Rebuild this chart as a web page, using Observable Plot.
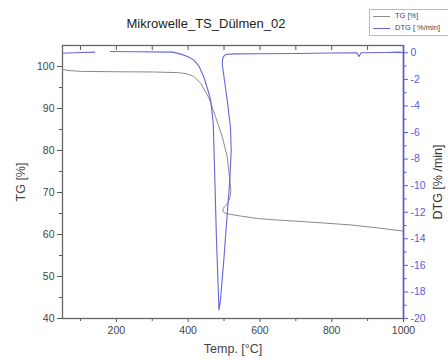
<!DOCTYPE html>
<html><head><meta charset="utf-8">
<script src="https://cdn.jsdelivr.net/npm/d3@7"></script>
<script src="https://cdn.jsdelivr.net/npm/@observablehq/plot@0.6"></script>
<style>
body{margin:0;background:#fff;font-family:"Liberation Sans",Arial,sans-serif;}
#wrap{position:relative;width:448px;height:362px;overflow:hidden;background:#fff;}
#wrap svg{position:absolute;left:0;top:0;}
#title{position:absolute;left:0;width:412px;top:16px;text-align:center;font-size:13px;color:#222;}
#legend{position:absolute;left:369px;top:9px;width:95px;height:25px;border:1px solid #bbb;background:#fff;font-size:7.5px;color:#444;}
#legend .row{position:absolute;left:3px;height:10px;line-height:10px;white-space:nowrap;}
#legend .sw{display:inline-block;width:17px;height:0;vertical-align:middle;margin-right:5px;}
g[aria-label="x-axis label"] text, g[aria-label="y-axis label"] text{font-size:12.5px;}
</style>
</head><body>
<div id="wrap">
  <div id="title">Mikrowelle_TS_Dülmen_02</div>
  <div id="legend">
    <div class="row" style="top:1px"><span class="sw" style="border-top:1px solid #8a8a8a"></span>TG [%]</div>
    <div class="row" style="top:13px"><span class="sw" style="border-top:1px solid #6565dd"></span>DTG [ %/min]</div>
  </div>
</div>
<script>
// TG curve (time-ordered, temperature overshoots during the reaction)
const tgTemp  = [50, 65, 100, 200, 300, 370, 395, 416, 435, 458, 476, 495, 509, 516, 519, 517, 511, 503, 497, 497, 503, 514, 546, 593, 658, 750, 850, 925, 1000];
const tgValue = [99.35, 99.05, 98.85, 98.75, 98.7, 98.55, 98.3, 97.6, 96.0, 92.5, 88.1, 83.3, 78.5, 73.0, 70.5, 69.0, 67.6, 66.7, 66.2, 65.5, 65.1, 64.85, 64.4, 63.8, 63.4, 62.9, 62.3, 61.6, 60.8];
// DTG curve (null = gap in the record)
const dtgTemp  = [50, 100, 140, 160, 184, 250, 357, 380, 400, 416, 430, 444, 455, 463, 470, 474, 479, 486, 490, 500, 509, 516, 520, 518, 509, 500, 495, 497, 504, 527, 600, 700, 800, 870, 876, 882, 950, 990, 1000];
const dtgValue = [-0.03, 0.02, 0.05, null, 0.1, 0.08, 0.05, -0.1, -0.3, -0.55, -1.0, -1.84, -2.8, -3.6, -5.35, -9.1, -14.1, -19.35, -18.65, -15.4, -12.1, -9.6, -7.35, -5.6, -3.6, -1.84, -0.83, -0.33, -0.13, -0.08, -0.07, -0.05, -0.02, 0.0, -0.28, 0.0, 0.02, 0.05, 0.0];

const xMajor = [200, 400, 600, 800, 1000];
const xMinor = [100, 300, 500, 700, 900];
const tgMajor = [40, 50, 60, 70, 80, 90, 100];
const tgMinor = [45, 55, 65, 75, 85, 95];
const dtgMajor = [0, -2, -4, -6, -8, -10, -12, -14, -16, -18, -20];
const dtgMinor = [-1, -3, -5, -7, -9, -11, -13, -15, -17, -19];

const W = 448, H = 362;
const M = {marginLeft: 62, marginRight: 45, marginTop: 45, marginBottom: 44};
const xDomain = [50, 1000];
const blue = "#5a5ae0";
const lineBlue = "#6565dd";

const tgData = tgTemp.map((t, i) => ({t, v: tgValue[i]}));
const dtgData = dtgTemp.map((t, i) => ({t, v: dtgValue[i]}));

const baseStyle = {fontFamily: '"Liberation Sans", Arial, sans-serif', fontSize: "10.5px", background: "transparent", overflow: "visible"};

const tgPlot = Plot.plot({
  width: W, height: H, ...M,
  style: {...baseStyle, color: "#444"},
  x: {domain: xDomain},
  y: {domain: [40, 105]},
  marks: [
    Plot.axisX(xMajor, {anchor: "bottom", tickSize: 4, tickPadding: 4, stroke: "#555", tickFormat: d => String(d), label: "Temp. [°C]", labelArrow: "none", labelAnchor: "center", labelOffset: 34, fill: "#444"}),
    Plot.axisX(xMinor, {anchor: "bottom", tickSize: 3, stroke: "#555", tickFormat: () => "", label: null}),
    Plot.axisX([...xMinor, ...xMajor], {anchor: "top", tickSize: 4, dy: 4, stroke: "#555", tickFormat: () => "", label: null}),
    Plot.axisY(tgMajor, {anchor: "left", tickSize: 5, tickPadding: 3, stroke: "#555", label: "TG [%]", labelArrow: "none", labelAnchor: "center", labelOffset: 46, fill: "#444"}),
    Plot.axisY(tgMinor, {anchor: "left", tickSize: 3, stroke: "#555", tickFormat: () => "", label: null}),
    Plot.frame({stroke: "#666", strokeWidth: 1.3}),
    Plot.line(tgData, {x: "t", y: "v", stroke: "#8a8a8a", strokeWidth: 1})
  ]
});

const dtgPlot = Plot.plot({
  width: W, height: H, ...M,
  style: {...baseStyle, color: blue},
  x: {domain: xDomain, axis: null},
  y: {domain: [-20, 0.55], axis: null},
  marks: [
    Plot.axisY(dtgMajor, {anchor: "right", tickSize: 4, tickPadding: 3, stroke: blue, fill: blue, tickFormat: d => String(d), label: "DTG [% /min]", labelArrow: "none", labelAnchor: "center", labelOffset: 38}),
    Plot.axisY(dtgMinor, {anchor: "right", tickSize: 2.5, stroke: blue, tickFormat: () => "", label: null}),
    Plot.ruleX([1000], {stroke: blue, strokeWidth: 1.5}),
    Plot.line(dtgData, {x: "t", y: "v", stroke: lineBlue, strokeWidth: 1.1})
  ]
});

const wrap = document.getElementById("wrap");
wrap.insertBefore(dtgPlot, wrap.firstChild);
wrap.insertBefore(tgPlot, wrap.firstChild);
// remove any direction arrows from axis labels; DTG label in dark text
[tgPlot, dtgPlot].forEach(svg => svg.querySelectorAll('g[aria-label$="axis label"] text').forEach(t => {
  t.textContent = t.textContent.replace(/\s*[→←↑↓]\s*/g, "").trim();
}));
dtgPlot.querySelectorAll('g[aria-label="y-axis label"] text').forEach(t => t.setAttribute("fill", "#333"));
</script>
</body></html>
